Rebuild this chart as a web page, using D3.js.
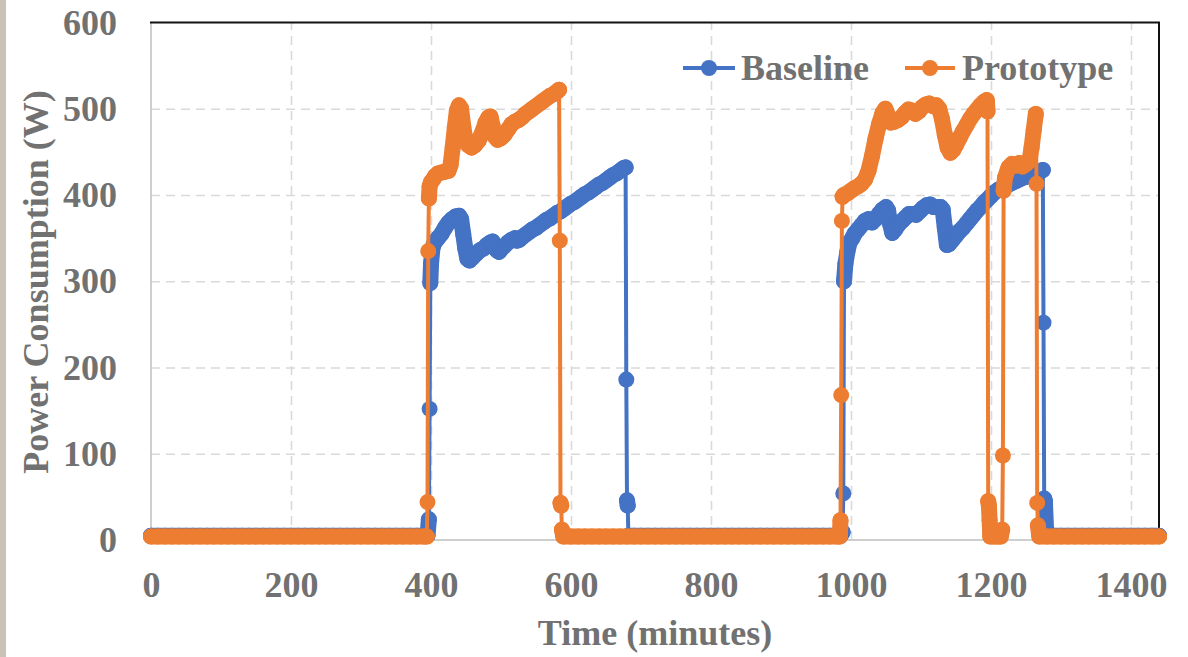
<!DOCTYPE html>
<html>
<head>
<meta charset="utf-8">
<script src="https://cdn.jsdelivr.net/npm/d3@7"></script>
<style>
  html, body { margin: 0; padding: 0; background: #ffffff; }
  svg { display: block; }
  text { font-family: "Liberation Serif", "Times New Roman", serif; font-weight: bold; fill: #717171; }
</style>
</head>
<body>
<svg id="chart" width="1188" height="657"></svg>
<script>
// ---------------- data ----------------
const xTicks = [0, 200, 400, 600, 800, 1000, 1200, 1400];
const yTicks = [0, 100, 200, 300, 400, 500, 600];
const seriesNames = ["Baseline", "Prototype"];
const seriesColors = ["#4472C4", "#ED7D31"];

const baselineTime = [
  0,10,20,30,40,50,60,70,80,90,100,110,120,130,140,150,160,170,180,190,
  200,210,220,230,240,250,260,270,280,290,300,310,320,330,340,350,360,370,380,390,395,
  397,398,399,400,402,405,410,415,420,425,430,435,440,443,446,449,452,455,460,465,470,475,
  480,485,488,491,494,497,500,505,510,515,520,523,526,530,535,540,545,550,555,560,565,570,
  575,580,585,590,595,600,605,610,615,620,625,630,635,640,645,650,655,660,665,670,675,678,
  679,680,681,682,690,700,710,720,730,740,750,760,770,780,790,800,810,820,830,840,850,860,
  870,880,890,900,910,920,930,940,950,960,970,980,985,
  988,989,990,992,995,998,1002,1005,1010,1015,1020,1025,1030,1035,1040,1045,1050,1053,1056,
  1059,1063,1068,1073,1078,1083,1088,1093,1098,1103,1108,1113,1118,1123,1128,1131,1134,1137,
  1140,1145,1150,1155,1160,1165,1170,1175,1180,1185,1190,1194,1200,1205,1210,1215,1220,1225,
  1230,1235,1240,1245,1250,1255,1260,1265,1270,1274,
  1275,1276,1277,1279,1290,1300,1310,1320,1330,1340,1350,1360,1370,1380,1390,1400,1410,1420,1430,1440
];
const baselineWatts = [
  5,5,5,5,5,5,5,5,5,5,5,5,5,5,5,5,5,5,5,5,
  5,5,5,5,5,5,5,5,5,5,5,5,5,5,5,5,5,5,5,5,5,
  24,152,298,320,338,345,350,355,362,368,372,375,376,372,355,338,326,324,328,332,336,338,
  342,345,346,341,336,334,337,341,345,348,350,347,348,351,354,357,360,362,365,368,371,373,
  376,379,381,384,387,390,392,395,398,401,403,406,409,412,414,417,420,423,425,428,431,432,
  186,46,40,5,5,5,5,5,5,5,5,5,5,5,5,5,5,5,5,5,5,5,
  5,5,5,5,5,5,5,5,5,5,5,5,5,
  9,54,300,320,335,345,350,355,360,365,370,372,368,372,378,383,386,382,366,
  356,360,366,370,374,378,378,377,381,385,388,389,386,386,386,383,362,342,
  343,348,353,358,362,367,372,377,382,386,391,394,399,403,406,408,410,412,
  414,416,418,420,421,423,424,426,427,429,
  252,48,45,5,5,5,5,5,5,5,5,5,5,5,5,5,5,5,5,5
];

const prototypeTime = [
  0,10,20,30,40,50,60,70,80,90,100,110,120,130,140,150,160,170,180,190,
  200,210,220,230,240,250,260,270,280,290,300,310,320,330,340,350,360,370,380,390,394,
  395,396,397,398,400,403,406,410,415,420,425,428,431,434,437,440,443,446,449,453,458,463,
  468,473,478,482,485,488,491,495,500,505,510,515,520,525,530,535,540,545,550,555,560,565,
  570,575,580,583,
  584,585,586,587,589,600,610,620,630,640,650,660,670,680,690,700,710,720,730,740,750,760,
  770,780,790,800,810,820,830,840,850,860,870,880,890,900,910,920,930,940,950,960,970,980,984,
  985,986,987,988,990,995,1000,1005,1010,1015,1020,1025,1030,1035,1040,1045,1049,1053,1057,
  1062,1067,1072,1077,1082,1087,1092,1097,1102,1107,1112,1117,1122,1126,1130,1134,1138,1142,
  1146,1150,1155,1160,1165,1170,1175,1180,1185,1190,1194,
  1195,1196,1197,1198,1199,1205,1210,1214,
  1216,1217,1218,1220,1225,1230,1235,1240,1245,1250,1255,1258,1261,1264,
  1265,1266,1267,1269,1280,1290,1300,1310,1320,1330,1340,1350,1360,1370,1380,1390,1400,1410,
  1420,1430,1440
];
const prototypeWatts = [
  4,4,4,4,4,4,4,4,4,4,4,4,4,4,4,4,4,4,4,4,
  4,4,4,4,4,4,4,4,4,4,4,4,4,4,4,4,4,4,4,4,4,
  44,335,396,410,415,418,422,425,426,427,428,435,455,478,498,504,500,480,465,458,455,458,
  463,472,484,490,491,480,468,464,466,470,476,482,485,487,490,494,497,500,503,506,509,512,
  515,517,520,522,
  347,43,40,12,4,4,4,4,4,4,4,4,4,4,4,4,4,4,4,4,4,4,
  4,4,4,4,4,4,4,4,4,4,4,4,4,4,4,4,4,4,4,4,4,4,4,
  23,168,370,398,400,402,405,408,410,413,418,428,445,465,482,495,500,492,484,
  485,487,490,495,499,498,494,497,502,505,506,503,504,500,488,470,455,449,
  452,458,466,474,481,488,494,499,504,508,510,
  497,45,40,23,4,4,4,4,
  12,98,405,420,432,436,434,437,433,436,440,455,475,494,
  413,43,17,4,4,4,4,4,4,4,4,4,4,4,4,4,4,4,
  4,4,4
];

// ---------------- drawing ----------------
(function () {
const svg = d3.select("#chart");
const W = 1188, H = 657;
const pL = 151, pR = 1159, pT = 22.5, pB = 540;
const R = 8;

// photo edge strip on the left
svg.append("rect").attr("x", 0).attr("y", 0).attr("width", 6).attr("height", H).attr("fill", "#cbc2b6");

const x = d3.scaleLinear().domain([0, 1440]).range([pL, pR]);
const y = d3.scaleLinear().domain([0, 600]).range([pB, pT]);

// gridlines
const gridY = svg.append("g").attr("transform", `translate(${pL},0)`)
  .call(d3.axisLeft(y).tickValues(yTicks.filter(d => d > 0 && d < 600)).tickSize(-(pR - pL)).tickFormat(""));
gridY.select(".domain").remove();
gridY.selectAll("line").attr("stroke", "#d9d9d9").attr("stroke-width", 1.6).attr("stroke-dasharray", "9,6");

const gridX = svg.append("g").attr("transform", `translate(0,${pB})`)
  .call(d3.axisBottom(x).tickValues(xTicks.filter(d => d > 0)).tickSize(-(pB - pT)).tickFormat(""));
gridX.select(".domain").remove();
gridX.selectAll("line").attr("stroke", "#d9d9d9").attr("stroke-width", 1.6).attr("stroke-dasharray", "9,6");

// axis lines / frame
svg.append("line").attr("x1", pL).attr("x2", pL).attr("y1", pT).attr("y2", pB)
  .attr("stroke", "#bfbfbf").attr("stroke-width", 1.5);
svg.append("line").attr("x1", pL).attr("x2", pR).attr("y1", pB).attr("y2", pB)
  .attr("stroke", "#bfbfbf").attr("stroke-width", 1.5);
svg.append("line").attr("x1", pL - 1).attr("x2", pR + 1).attr("y1", pT).attr("y2", pT)
  .attr("stroke", "#111").attr("stroke-width", 2);
svg.append("line").attr("x1", pR).attr("x2", pR).attr("y1", pT).attr("y2", pB)
  .attr("stroke", "#111").attr("stroke-width", 2);

// tick labels
const axY = svg.append("g").attr("transform", `translate(${pL},0)`)
  .call(d3.axisLeft(y).tickValues(yTicks).tickSize(0).tickPadding(34).tickFormat(d3.format("d")));
axY.select(".domain").remove();
axY.selectAll("text").attr("font-size", 36).attr("font-family", null).attr("fill", "#717171");

const axX = svg.append("g").attr("transform", `translate(0,${pB})`)
  .call(d3.axisBottom(x).tickValues(xTicks).tickSize(0).tickPadding(31).tickFormat(d3.format("d")));
axX.select(".domain").remove();
axX.selectAll("text").attr("font-size", 36).attr("font-family", null).attr("fill", "#717171");

// axis titles
svg.append("text").attr("x", 655).attr("y", 645).attr("text-anchor", "middle")
  .attr("font-size", 36).text("Time (minutes)");
svg.append("text").attr("transform", "translate(48,282) rotate(-90)").attr("text-anchor", "middle")
  .attr("font-size", 36).text("Power Consumption (W)");

// series
const series = [
  { name: seriesNames[0], color: seriesColors[0], t: baselineTime, v: baselineWatts },
  { name: seriesNames[1], color: seriesColors[1], t: prototypeTime, v: prototypeWatts }
];
const line = d3.line().x(d => x(d[0])).y(d => y(d[1]));
series.forEach(s => {
  const pts = s.t.map((t, i) => [t, s.v[i]]);
  const g = svg.append("g");
  // thin connecting line
  g.append("path").datum(pts).attr("d", line).attr("fill", "none")
    .attr("stroke", s.color).attr("stroke-width", 4).attr("stroke-linejoin", "round");
  // dense runs of one-minute samples merge their markers into a solid band
  const runs = [];
  let cur = [pts[0]];
  for (let i = 1; i < pts.length; i++) {
    const a = pts[i - 1], b = pts[i];
    const rate = Math.abs(b[1] - a[1]) / (b[0] - a[0]);
    if (rate <= 25) cur.push(b);
    else { runs.push(cur); cur = [b]; }
  }
  runs.push(cur);
  runs.filter(r => r.length > 1).forEach(r => {
    g.append("path").datum(r).attr("d", line).attr("fill", "none")
      .attr("stroke", s.color).attr("stroke-width", 2 * R)
      .attr("stroke-linejoin", "round").attr("stroke-linecap", "round");
  });
  g.selectAll("circle").data(pts).join("circle")
    .attr("cx", d => x(d[0])).attr("cy", d => y(d[1])).attr("r", R).attr("fill", s.color);
});

// legend
const legendItems = [
  { name: seriesNames[0], color: seriesColors[0], x0: 683, x1: 735, tx: 741 },
  { name: seriesNames[1], color: seriesColors[1], x0: 905, x1: 955, tx: 962 }
];
legendItems.forEach(l => {
  const ly = 68;
  svg.append("line").attr("x1", l.x0).attr("x2", l.x1).attr("y1", ly).attr("y2", ly)
    .attr("stroke", l.color).attr("stroke-width", 4);
  svg.append("circle").attr("cx", (l.x0 + l.x1) / 2).attr("cy", ly).attr("r", R).attr("fill", l.color);
  svg.append("text").attr("x", l.tx).attr("y", ly + 12).attr("font-size", 36).text(l.name);
});
})();
</script>
</body>
</html>
